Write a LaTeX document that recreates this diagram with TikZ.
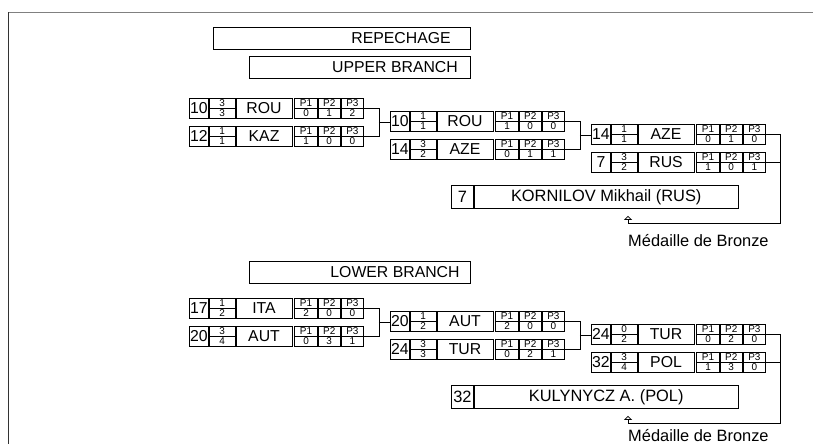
\documentclass[tikz,border=0pt]{standalone}
\usepackage{fontspec}
\setmainfont{Liberation Sans}
\usetikzlibrary{positioning, arrows.meta, calc}

\begin{document}
\begin{tikzpicture}[
  x=0.03cm, y=-0.03cm,
  font=\fontsize{13.5}{13.5}\selectfont,
  cell/.style={draw, line width=0.7pt, inner sep=0pt, minimum height=0.6cm, anchor=north west},
  rescell/.style={cell, minimum height=0.69cm, font=\fontsize{14}{14}\selectfont},
  titlebox/.style={draw, line width=0.9pt, inner sep=0pt, minimum height=0.66cm, anchor=north west},
  tiny/.style={font=\fontsize{8.5}{8.5}\selectfont, inner sep=0pt},
  wire/.style={line width=0.7pt},
  medal/.style={line width=0.6pt, -{Triangle[open, length=0.12cm, width=0.24cm]}},
]
  \useasboundingbox (0,0) rectangle (813,444);

  % --- sheet edges ---
  \draw[gray, line width=0.8pt] (8,12) -- (813,12);
  \draw[black!80, line width=0.8pt] (8,12) -- (8,444);

  % --- titles ---
  \node[titlebox, minimum width=7.71cm] (rep) at (213,27) {};
  \node (rept) at (401,38) {REPECHAGE};
  \node[titlebox, minimum width=6.63cm] (upb) at (249,56) {};
  \node (upbt) at (395,67) {UPPER BRANCH};
  \node[titlebox, minimum width=6.63cm] (lob) at (249,261) {};
  \node (lobt) at (395,272) {LOWER BRANCH};

  % --- bouts: id / x / y / number / fraction / nation / P1 P2 P3 ---
  \foreach \id/\x/\y/\num/\fa/\fb/\nat/\pa/\pb/\pc in {
      ua/189/98/10/3/3/ROU/0/1/2, ub/189/126/12/1/1/KAZ/1/0/0,
      uc/390/111/10/1/1/ROU/1/0/0, ud/390/139/14/3/2/AZE/0/1/1,
      ue/591/124/14/1/1/AZE/0/1/0, uf/591/152/7/3/2/RUS/1/0/1,
      la/189/298/17/1/2/ITA/2/0/0, lb/189/326/20/3/4/AUT/0/3/1,
      lc/390/311/20/1/2/AUT/2/0/0, ld/390/339/24/3/3/TUR/0/2/1,
      le/591/324/24/0/2/TUR/0/2/0, lf/591/352/32/3/4/POL/1/3/0}{
    \node[cell, minimum width=0.57cm] (\id-n) at (\x,\y) {\num};
    \node[cell, minimum width=0.78cm] (\id-f) at (\id-n.north east) {};
    \node[cell, minimum width=1.68cm] (\id-m) at (\id-f.north east) {\nat};
    \node[cell, minimum width=0.67cm] (\id-p1) at ([xshift=0.06cm]\id-m.north east) {};
    \node[cell, minimum width=0.67cm] (\id-p2) at (\id-p1.north east) {};
    \node[cell, minimum width=0.67cm] (\id-p3) at (\id-p2.north east) {};
    \draw[line width=0.5pt] (\id-f.west) -- (\id-f.east);
    \draw[line width=0.5pt] (\id-p1.west) -- (\id-p3.east);
    \node[tiny] (\id-fa) at ([yshift=0.15cm]\id-f.center) {\fa};
    \node[tiny] (\id-fb) at ([yshift=-0.15cm]\id-f.center) {\fb};
    \foreach \k/\v in {1/\pa, 2/\pb, 3/\pc}{
      \node[tiny] (\id-t\k) at ([yshift=0.15cm]\id-p\k.center) {P\k};
      \node[tiny] (\id-v\k) at ([yshift=-0.15cm]\id-p\k.center) {\v};
    }
  }

  % --- results ---
  \node[rescell, minimum width=0.66cm] (resU-n) at (451,185) {7};
  \node[rescell, minimum width=7.92cm] (resU-m) at (resU-n.north east) {KORNILOV Mikhail (RUS)};
  \node[rescell, minimum width=0.66cm] (resL-n) at (451,385) {32};
  \node[rescell, minimum width=7.92cm] (resL-m) at (resL-n.north east) {KULYNYCZ A. (POL)};

  \node[anchor=west, inner sep=0pt, font=\fontsize{14}{14}\selectfont] (medU) at (628,241) {Médaille de Bronze};
  \node[anchor=west, inner sep=0pt, font=\fontsize{14}{14}\selectfont] (medL) at (628,436) {Médaille de Bronze};

  % --- bracket wiring ---
  \foreach \a/\b/\nx in {ua/ub/uc, uc/ud/ue, la/lb/lc, lc/ld/le}{
    \draw[wire] (\a-p3.east) -- ++(15,0) coordinate (\a-j) |- (\b-p3.east);
    \coordinate (\a-o) at ($(\a-j)!0.5!(\a-j |- \b-p3.east)$);
    \draw[wire] (\a-o) -- (\a-o -| \nx-n.west);
  }

  % --- bronze medal ---
  \foreach \a/\b/\r/\m in {ue/uf/resU/medU, le/lf/resL/medL}{
    \draw[wire] (\a-p3.east) -- ++(14,0) coordinate (\a-j) |- (\b-p3.east);
    \coordinate (\m-c) at ($(\m.west |- \r-m.south)+(0,15)$);
    \draw[wire] (\a-j) |- (\m-c);
    \draw[medal] (\m-c) -- ($(\m.west |- \r-m.south)+(0,7)$);
  }
\end{tikzpicture}
\end{document}
